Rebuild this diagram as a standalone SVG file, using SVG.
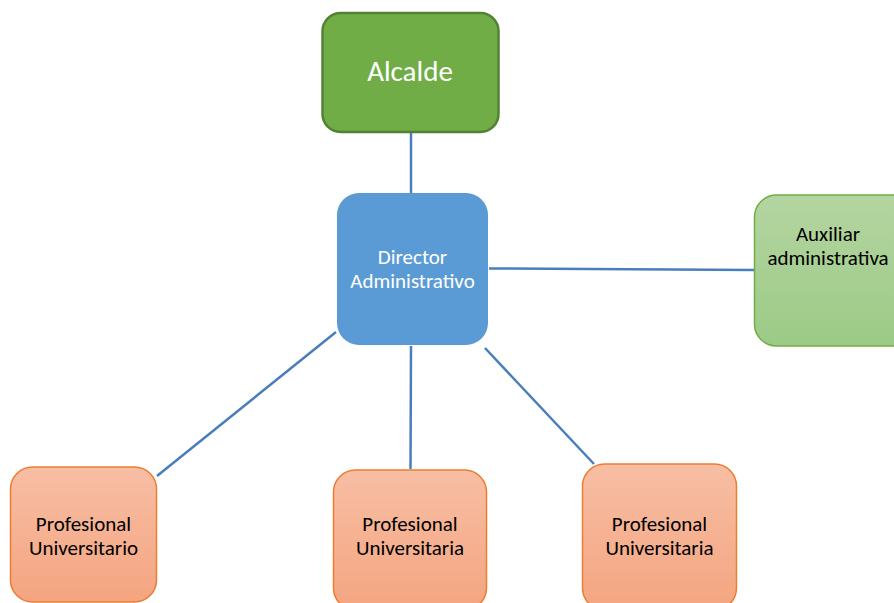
<svg xmlns="http://www.w3.org/2000/svg" width="894" height="603" viewBox="0 0 894 603">
<defs>
<linearGradient id="gGreen" x1="0" y1="0" x2="0" y2="1">
<stop offset="0" stop-color="#B4D5A1"/>
<stop offset="1" stop-color="#9CCA86"/>
</linearGradient>
<linearGradient id="gOrange" x1="0" y1="0" x2="0" y2="1">
<stop offset="0" stop-color="#F7BEA4"/>
<stop offset="1" stop-color="#F4A580"/>
</linearGradient>
<style>
.conn{stroke:#4A7EBB;stroke-width:2.5;fill:none}
.t{font-family:Carlito,Calibri,"Liberation Sans",sans-serif;text-anchor:middle;font-size:21px}
.w{fill:#FFFFFF}
.k{fill:#000000}
.org{fill:url(#gOrange);stroke:#ED7D31;stroke-width:1.5}
</style>
</defs>
<rect width="894" height="603" fill="#FFFFFF"/>
<g id="connectors">
<line class="conn" x1="411" y1="133" x2="411" y2="193"/>
<line class="conn" x1="489" y1="268.5" x2="754" y2="270"/>
<line class="conn" x1="336" y1="332" x2="157" y2="476"/>
<line class="conn" x1="411" y1="346" x2="410.5" y2="469"/>
<line class="conn" x1="485" y1="348" x2="594" y2="464"/>
</g>
<g id="alcalde">
<rect x="322.5" y="13" width="176" height="119" rx="18" fill="#70AD47" stroke="#548235" stroke-width="2.5"/>
<text class="t w" x="410" y="81" style="font-size:29px">Alcalde</text>
</g>
<g id="director">
<rect x="337" y="193" width="151" height="152" rx="22" fill="#5B9BD5"/>
<text class="t w" x="412.5" y="264">Director</text>
<text class="t w" x="412.5" y="288">Administrativo</text>
</g>
<g id="auxiliar">
<rect x="754.5" y="195" width="160" height="151" rx="22" fill="url(#gGreen)" stroke="#70AD47" stroke-width="1.5"/>
<text class="t k" x="828" y="241">Auxiliar</text>
<text class="t k" x="828" y="265">administrativa</text>
</g>
<g id="prof1">
<rect x="10.5" y="467" width="146" height="135" rx="22" class="org"/>
<text class="t k" x="83.5" y="531">Profesional</text>
<text class="t k" x="83.5" y="555">Universitario</text>
</g>
<g id="prof2">
<rect x="333.5" y="470" width="153" height="140" rx="22" class="org"/>
<text class="t k" x="410" y="531">Profesional</text>
<text class="t k" x="410" y="555">Universitaria</text>
</g>
<g id="prof3">
<rect x="582.5" y="464" width="154" height="146" rx="22" class="org"/>
<text class="t k" x="659.5" y="531">Profesional</text>
<text class="t k" x="659.5" y="555">Universitaria</text>
</g>
</svg>
